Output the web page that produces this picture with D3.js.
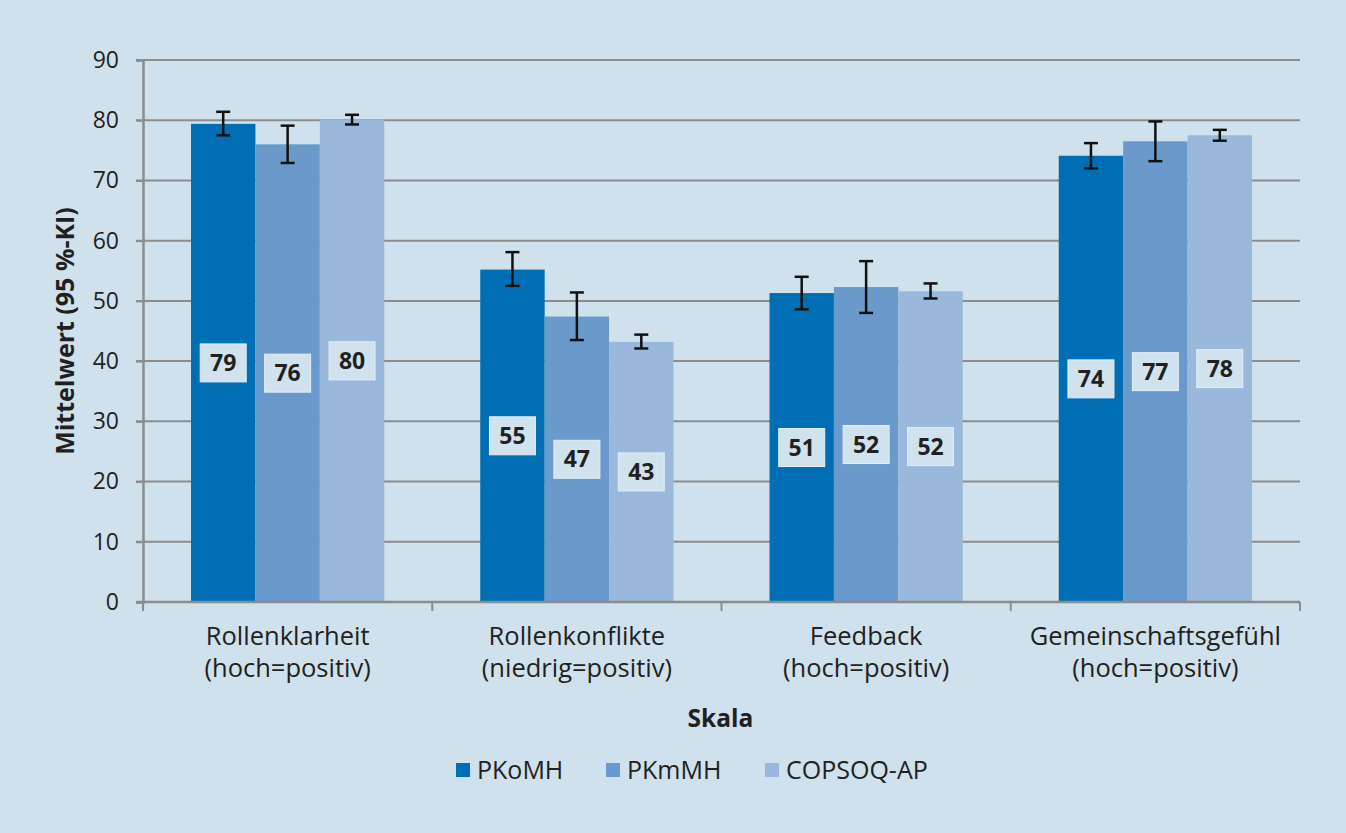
<!DOCTYPE html>
<html>
<head>
<meta charset="utf-8">
<script src="https://cdn.jsdelivr.net/npm/d3@7"></script>
<style>
	body { margin: 0; background: #cfe1ed; }
	svg { display: block; font-family: "Open Sans", "Noto Sans", sans-serif; }
</style>
</head>
<body>
<svg id="svg_chart" width="1346" height="833"></svg>
<script>
var categories = [
	["Rollenklarheit", "(hoch=positiv)"],
	["Rollenkonflikte", "(niedrig=positiv)"],
	["Feedback", "(hoch=positiv)"],
	["Gemeinschaftsgefühl", "(hoch=positiv)"]
];
var seriesNames = ["PKoMH", "PKmMH", "COPSOQ-AP"];
var seriesColors = ["#006eb4", "#6a9acb", "#9ab8dc"];
var means = [
	[79.4, 76.0, 80.1],
	[55.2, 47.4, 43.2],
	[51.3, 52.3, 51.6],
	[74.1, 76.5, 77.5]
];
var ciLow = [
	[77.5, 72.9, 79.3],
	[52.5, 43.5, 42.1],
	[48.6, 48.0, 50.4],
	[72.0, 73.2, 76.6]
];
var ciHigh = [
	[81.4, 79.1, 80.9],
	[58.1, 51.4, 44.4],
	[54.0, 56.6, 52.9],
	[76.2, 79.8, 78.4]
];
var labels = [
	[79, 76, 80],
	[55, 47, 43],
	[51, 52, 52],
	[74, 77, 78]
];
var yTicks = [0, 10, 20, 30, 40, 50, 60, 70, 80, 90];

function renderChart() {
	var svg = d3.select("#svg_chart"),
		margin = {left: 143, right: 46, top: 60, bottom: 231},
		width = +svg.attr("width"),
		height = +svg.attr("height");

	var x0 = d3.scaleBand()
		.domain(d3.range(categories.length))
		.range([margin.left, width - margin.right])
		.paddingInner(0).paddingOuter(0);
	var x1 = d3.scaleBand()
		.domain(d3.range(seriesNames.length))
		.range([48, x0.bandwidth() - 48]);
	var y = d3.scaleLinear().domain([0, 90]).range([height - margin.bottom, margin.top]);

	// grid lines
	var grid = svg.append("g").attr("id", "grid");
	grid.selectAll("line").data(yTicks.slice(1))
		.enter().append("line")
		.attr("x1", margin.left - 7).attr("x2", width - margin.right)
		.attr("y1", function(d) { return y(d); })
		.attr("y2", function(d) { return y(d); })
		.attr("stroke", "#8c8c8c").attr("stroke-width", 2);

	// y axis
	var gy = svg.append("g").attr("transform", "translate(" + margin.left + ",0)")
		.call(d3.axisLeft(y).tickValues(yTicks).tickSize(7).tickPadding(17));
	gy.select(".domain").attr("stroke", "#8c8c8c").attr("stroke-width", 2.5);
	gy.selectAll(".tick line").attr("stroke", "#8c8c8c").attr("stroke-width", 2);
	gy.selectAll(".tick text").attr("font-size", 23).attr("fill", "#231f20")
		.attr("font-family", "'Open Sans', sans-serif");

	// bars
	var groups = svg.append("g").attr("id", "bars").selectAll("g").data(means)
		.enter().append("g")
		.attr("transform", function(d, i) { return "translate(" + x0(i) + ",0)"; });
	groups.selectAll("rect").data(function(d) { return d; })
		.enter().append("rect")
		.attr("x", function(d, j) { return x1(j); })
		.attr("width", x1.bandwidth())
		.attr("y", function(d) { return y(d); })
		.attr("height", function(d) { return y(0) - y(d); })
		.attr("fill", function(d, j) { return seriesColors[j]; });

	// x axis
	var gx = svg.append("g").attr("transform", "translate(0," + y(0) + ")");
	gx.append("line").attr("x1", margin.left - 7).attr("x2", width - margin.right)
		.attr("stroke", "#8c8c8c").attr("stroke-width", 2.5);
	gx.selectAll(".xtick").data(d3.range(categories.length + 1))
		.enter().append("line")
		.attr("x1", function(d) { return margin.left + d * x0.bandwidth(); })
		.attr("x2", function(d) { return margin.left + d * x0.bandwidth(); })
		.attr("y1", 0).attr("y2", 9)
		.attr("stroke", "#8c8c8c").attr("stroke-width", 2);
	var catText = gx.selectAll(".cat").data(categories)
		.enter().append("text")
		.attr("text-anchor", "middle")
		.attr("font-size", 25.5).attr("fill", "#231f20")
		.attr("transform", function(d, i) { return "translate(" + (x0(i) + x0.bandwidth() / 2) + ",0)"; });
	catText.append("tspan").attr("x", 0).attr("y", 43).text(function(d) { return d[0]; });
	catText.append("tspan").attr("x", 0).attr("y", 75).text(function(d) { return d[1]; });

	// error bars
	var err = svg.append("g").attr("id", "errors");
	for (var i = 0; i < means.length; ++i) {
		for (var j = 0; j < seriesNames.length; ++j) {
			var cx = x0(i) + x1(j) + x1.bandwidth() / 2;
			err.append("line").attr("x1", cx).attr("x2", cx)
				.attr("y1", y(ciLow[i][j])).attr("y2", y(ciHigh[i][j]))
				.attr("stroke", "#111").attr("stroke-width", 2.5);
			[ciLow[i][j], ciHigh[i][j]].forEach(function(v) {
				err.append("line").attr("x1", cx - 7).attr("x2", cx + 7)
					.attr("y1", y(v)).attr("y2", y(v))
					.attr("stroke", "#111").attr("stroke-width", 2.5);
			});
		}
	}

	// value labels
	var lab = svg.append("g").attr("id", "labels");
	for (var i = 0; i < means.length; ++i) {
		for (var j = 0; j < seriesNames.length; ++j) {
			var cx = x0(i) + x1(j) + x1.bandwidth() / 2;
			var cy = (y(0) + y(means[i][j])) / 2;
			lab.append("rect").attr("x", cx - 23).attr("y", cy - 19)
				.attr("width", 46).attr("height", 38)
				.attr("fill", "#d0e2ee").attr("stroke", "#e4eef5").attr("stroke-width", 1);
			lab.append("text").attr("x", cx).attr("y", cy + 8)
				.attr("text-anchor", "middle").attr("font-size", 23)
				.attr("font-weight", "bold").attr("fill", "#231f20")
				.text(labels[i][j]);
		}
	}

	// axis titles
	svg.append("text").attr("x", (margin.left + width - margin.right) / 2 - 1).attr("y", 727)
		.attr("text-anchor", "middle").attr("font-size", 24.5).attr("font-weight", "bold")
		.attr("fill", "#231f20").text("Skala");
	svg.append("text")
		.attr("transform", "translate(74," + ((y(0) + y(90)) / 2) + ") rotate(-90)")
		.attr("text-anchor", "middle").attr("font-size", 25).attr("font-weight", "bold")
		.attr("fill", "#231f20").text("Mittelwert (95 %-KI)");

	// legend
	var legendX = [456, 606, 765];
	var leg = svg.append("g").attr("id", "legend").selectAll("g").data(seriesNames)
		.enter().append("g")
		.attr("transform", function(d, i) { return "translate(" + legendX[i] + ",763)"; });
	leg.append("rect").attr("width", 14).attr("height", 14)
		.attr("fill", function(d, i) { return seriesColors[i]; });
	leg.append("text").attr("x", 21).attr("y", 16)
		.attr("font-size", 25).attr("fill", "#231f20")
		.text(function(d) { return d; });
}

renderChart();
</script>
</body>
</html>
